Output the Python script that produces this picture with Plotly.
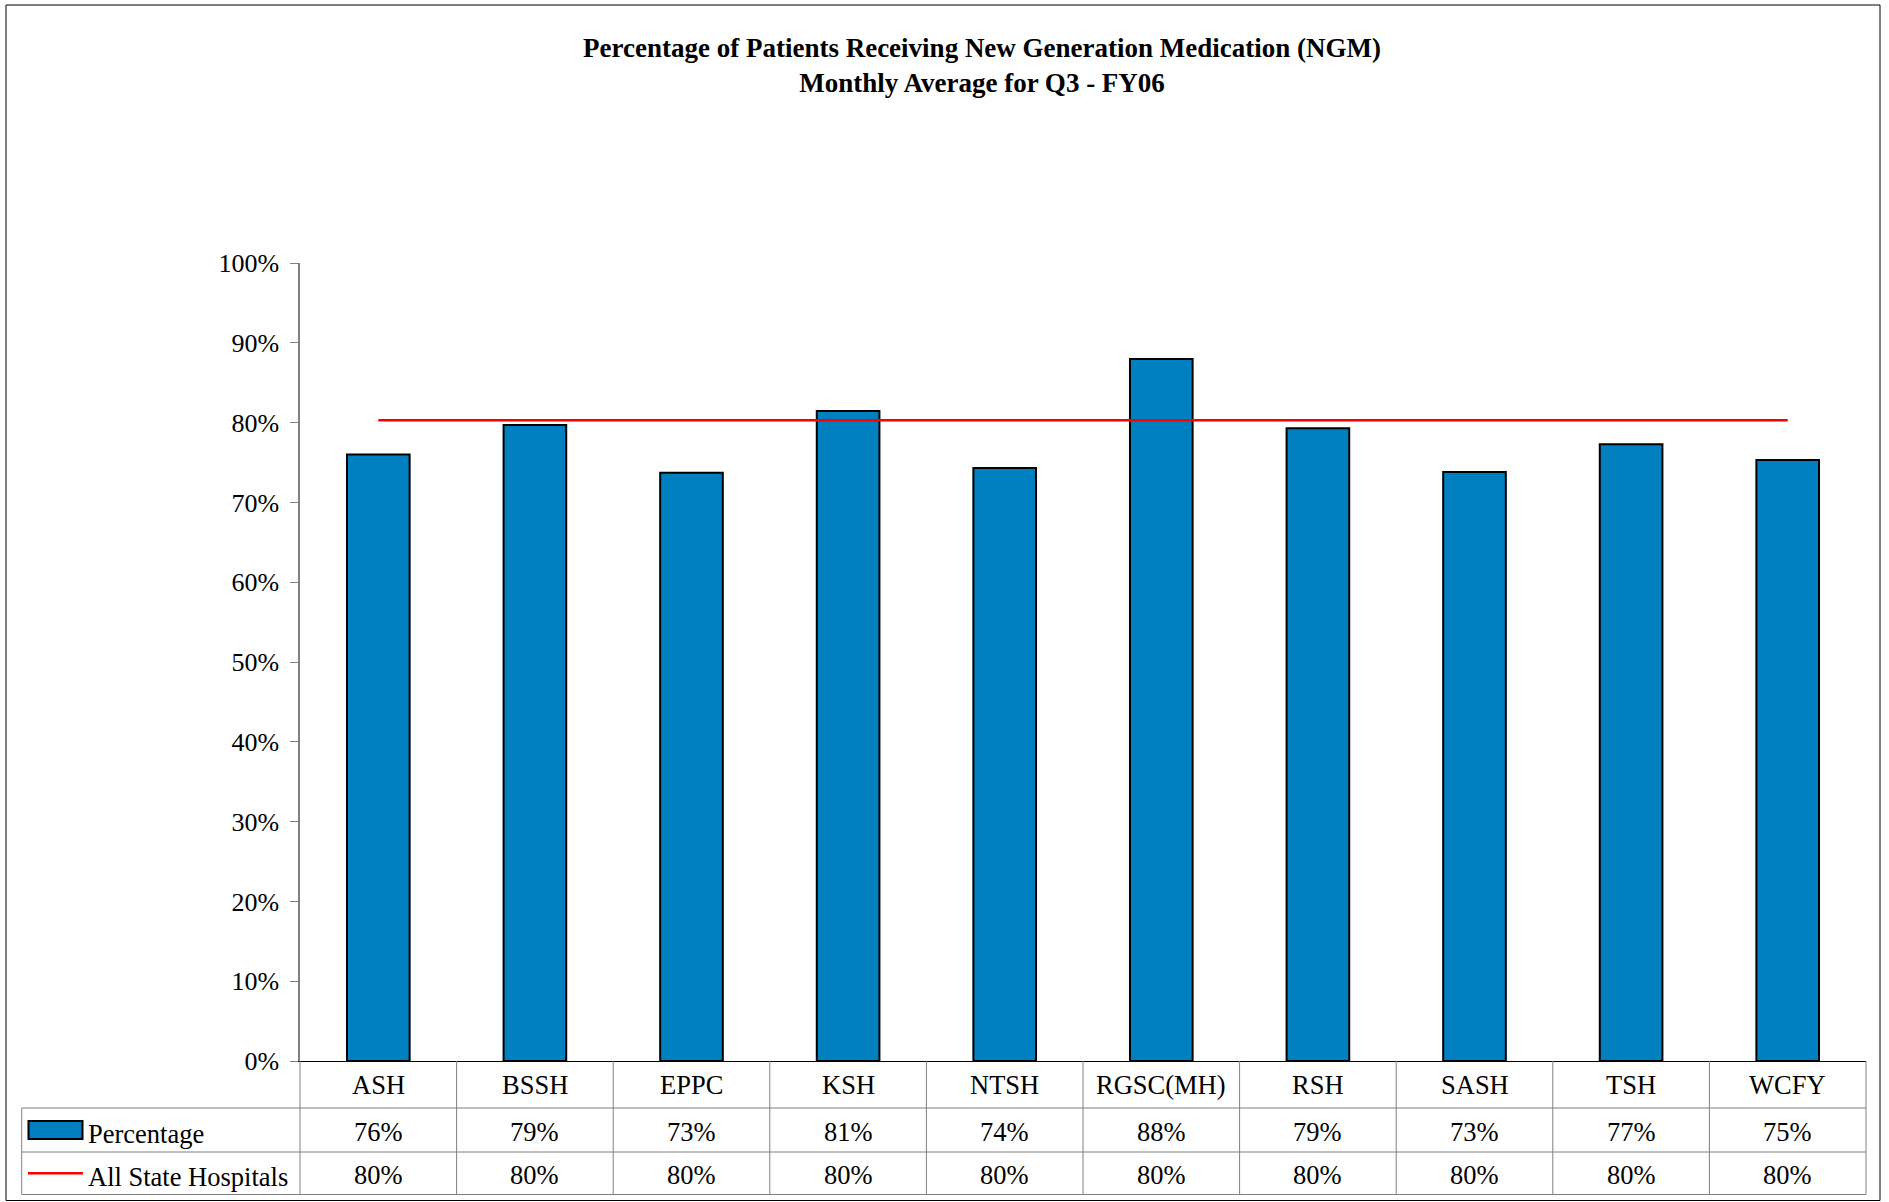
import plotly.graph_objects as go

# ---------------- data ----------------
categories = ["ASH", "BSSH", "EPPC", "KSH", "NTSH", "RGSC(MH)", "RSH", "SASH", "TSH", "WCFY"]
percentage = [0.760, 0.797, 0.737, 0.8145, 0.743, 0.8797, 0.793, 0.738, 0.773, 0.753]
all_state = [0.803, 0.803, 0.803, 0.803, 0.803, 0.803, 0.803, 0.803, 0.803, 0.803]
percentage_labels = ["76%", "79%", "73%", "81%", "74%", "88%", "79%", "73%", "77%", "75%"]
all_state_labels = ["80%", "80%", "80%", "80%", "80%", "80%", "80%", "80%", "80%", "80%"]
y_ticks = [0.0, 0.1, 0.2, 0.3, 0.4, 0.5, 0.6, 0.7, 0.8, 0.9, 1.0]
series_names = ["Percentage", "All State Hospitals"]
title_lines = ["Percentage of Patients Receiving New Generation Medication (NGM)",
               "Monthly Average for Q3 - FY06"]

# ---------------- layout geometry (pixels) ----------------
W, H = 1889, 1202
PL, PR, PT, PB = 300, 1866, 263, 1061
FONT = "Liberation Serif, Times New Roman, serif"
BAR_COLOR = "#0080C0"
GRID = "#808080"
TABLE_FS = 26.5


def px(x):
    return (x - PL) / (PR - PL)


def py(y):
    return (PB - y) / (PB - PT)


fig = go.Figure()
fig.add_trace(go.Bar(x=categories, y=percentage, name=series_names[0], width=0.4,
                     marker=dict(color=BAR_COLOR, line=dict(color="black", width=2)),
                     showlegend=False))
fig.add_trace(go.Scatter(x=categories, y=all_state, name=series_names[1], mode="lines",
                         line=dict(color="#FF0000", width=2.5), showlegend=False))

shapes = []
# outer chart border
shapes.append(dict(type="rect", xref="paper", yref="paper", x0=px(6), x1=px(1880),
                   y0=py(5), y1=py(1200.5), line=dict(color="black", width=1)))
# data table horizontal lines
for yy in [1108, 1152, 1194.5]:
    shapes.append(dict(type="line", xref="paper", yref="paper", x0=px(21.7), x1=1,
                       y0=py(yy), y1=py(yy), line=dict(color=GRID, width=1)))
# table left edge
shapes.append(dict(type="line", xref="paper", yref="paper", x0=px(21.7), x1=px(21.7),
                   y0=py(1108), y1=py(1194.5), line=dict(color=GRID, width=1)))
# column dividers at category boundaries
n = len(categories)
for i in range(n + 1):
    shapes.append(dict(type="line", xref="paper", yref="paper", x0=i / n, x1=i / n,
                       y0=py(1061), y1=py(1194.5), line=dict(color=GRID, width=1)))
# legend keys in table
shapes.append(dict(type="rect", xref="paper", yref="paper", x0=px(28.5), x1=px(82.5),
                   y0=py(1139), y1=py(1121), fillcolor=BAR_COLOR,
                   line=dict(color="black", width=2)))
shapes.append(dict(type="line", xref="paper", yref="paper", x0=px(28), x1=px(83),
                   y0=py(1173.3), y1=py(1173.3), line=dict(color="#FF0000", width=2.5)))

annotations = []
annotations.append(dict(text="<b>" + title_lines[0] + "</b><br><b>" + title_lines[1] + "</b>",
                        xref="paper", yref="paper", x=px(982), y=py(66),
                        xanchor="center", yanchor="middle", showarrow=False,
                        font=dict(family=FONT, size=27, color="black")))
for c, pl, al in zip(categories, percentage_labels, all_state_labels):
    annotations.append(dict(text=c, xref="x", yref="paper", x=c, y=py(1085),
                            xanchor="center", yanchor="middle", showarrow=False,
                            font=dict(family=FONT, size=TABLE_FS, color="black")))
    annotations.append(dict(text=pl, xref="x", yref="paper", x=c, y=py(1131.5),
                            xanchor="center", yanchor="middle", showarrow=False,
                            font=dict(family=FONT, size=TABLE_FS, color="black")))
    annotations.append(dict(text=al, xref="x", yref="paper", x=c, y=py(1174.5),
                            xanchor="center", yanchor="middle", showarrow=False,
                            font=dict(family=FONT, size=TABLE_FS, color="black")))
for name, yy in zip(series_names, [1134, 1177]):
    annotations.append(dict(text=name, xref="paper", yref="paper", x=px(86), y=py(yy),
                            xanchor="left", yanchor="middle", showarrow=False,
                            font=dict(family=FONT, size=TABLE_FS, color="black")))

fig.update_layout(
    width=W, height=H,
    margin=dict(l=PL, r=W - PR, t=PT, b=H - PB, autoexpand=False),
    paper_bgcolor="white", plot_bgcolor="white",
    font=dict(family=FONT, size=26, color="black"),
    shapes=shapes, annotations=annotations,
    bargap=0.6,
    xaxis=dict(range=[-0.5, n - 0.5], showticklabels=False, ticks="", showgrid=False,
               zeroline=False, showline=True, linecolor="black", linewidth=1.2),
    yaxis=dict(range=[0, 1], tickvals=y_ticks, tickformat=".0%", ticks="outside",
               ticklen=8, tickcolor=GRID, tickwidth=1, showline=True, linecolor=GRID,
               linewidth=1.5, showgrid=False, zeroline=False, ticklabelstandoff=6,
               tickfont=dict(family=FONT, size=26, color="black")),
)

fig.write_html("out.html", config={"displayModeBar": False},
               post_script="document.body.style.margin='0';document.body.style.padding='0';"
                           "document.body.style.overflow='hidden';")
